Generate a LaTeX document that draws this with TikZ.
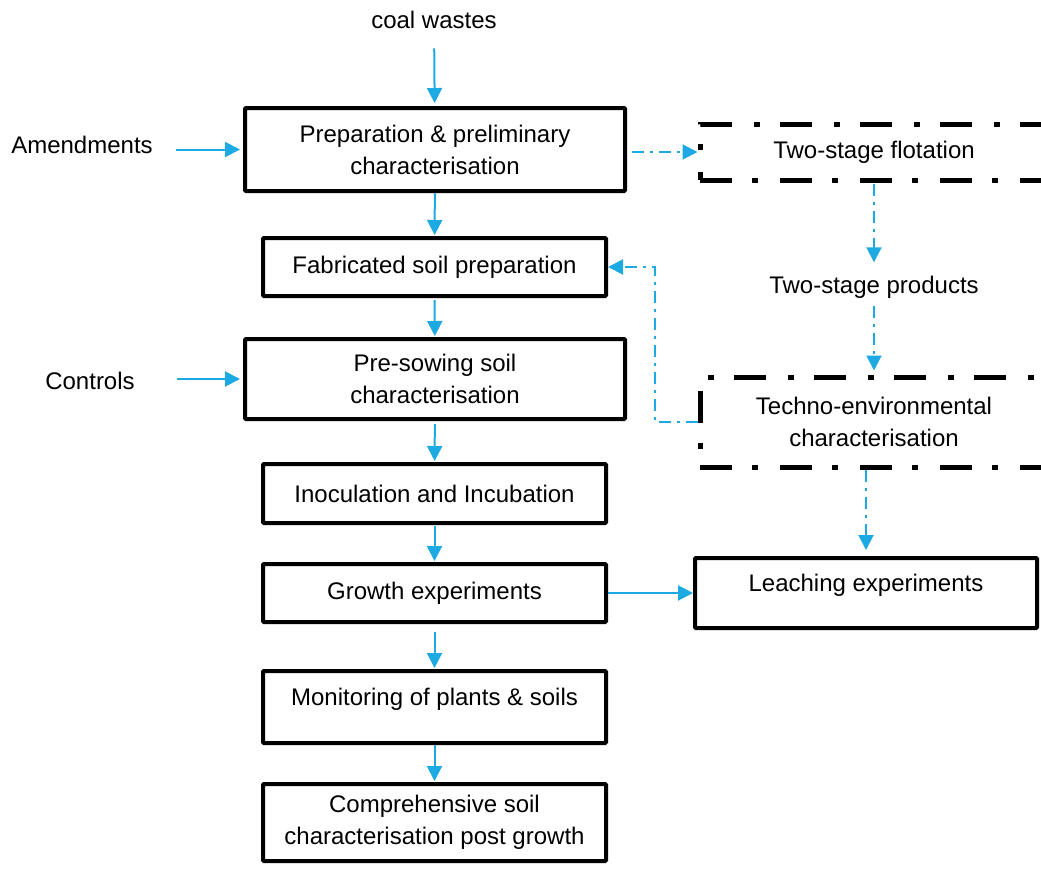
\documentclass[tikz,border=0pt]{standalone}
\usepackage{fontspec}
\setmainfont{Liberation Sans}
\usetikzlibrary{arrows.meta,positioning}
\definecolor{flowblue}{RGB}{29,169,226}
\tikzset{
  txt/.style={font=\fontsize{24}{32}\selectfont, align=center},
  stepbox/.style={txt, draw, line width=4pt, rectangle, rounded corners=1pt},
  raised/.style={text depth=21pt},
  dashbox/.style={txt, draw, line width=5pt, dash pattern=on 32pt off 20pt on 6pt off 22pt},
  flow/.style={draw=flowblue, line width=2pt, -{Triangle[length=15pt,width=15pt]}},
  dflow/.style={flow, dash pattern=on 12pt off 6pt on 3pt off 6pt}
}
\begin{document}
\begin{tikzpicture}[x=1pt, y=-1pt]
    \useasboundingbox (0,0) rectangle (1041,868);
    \clip (0,0) rectangle (1041,868);

    % main column
    \node [txt] (coal) at (434,20) {coal wastes};
    \node [stepbox, minimum width=380pt, minimum height=83pt] (prep) at (435,149.5) {Preparation \& preliminary\\characterisation};
    \node [txt] (amend) at (82,145) {Amendments};
    \node [stepbox, minimum width=343pt, minimum height=58pt] (fab) at (434.5,267) {Fabricated soil preparation};
    \node [stepbox, minimum width=380pt, minimum height=80pt] (presow) at (435,379) {Pre-sowing soil\\characterisation};
    \node [txt] (ctrl) at (90,381) {Controls};
    \node [stepbox, minimum width=343pt, minimum height=59pt] (inoc) at (434.5,493.5) {Inoculation and Incubation};
    \node [stepbox, minimum width=343pt, minimum height=58pt] (growth) at (434.5,593) {Growth experiments};
    \node [stepbox, raised, minimum width=343pt, minimum height=72pt] (monit) at (434.5,707) {Monitoring of plants \& soils};
    \node [stepbox, minimum width=343pt, minimum height=77pt] (comp) at (434.5,822.5) {Comprehensive soil\\characterisation post growth};

    % right column
    \node [dashbox, minimum width=348pt, minimum height=56pt] (flot) at (874,152) {Two-stage flotation};
    \node [txt] (prod) at (874,287) {Two-stage products};
    \node [dashbox, minimum width=348pt, minimum height=90pt] (techno) at (874,422) {Techno-environmental\\characterisation};
    \node [stepbox, raised, minimum width=342pt, minimum height=70pt] (leach) at (866,593) {Leaching experiments};

    \draw [flow, shorten <=16pt, shorten >=3pt] (coal) -- (prep);
    \draw [flow, shorten <=20pt, shorten >=3pt] (amend.east |- prep.west) -- (prep.west);
    \draw [flow, shorten <=39pt, shorten >=3pt] (ctrl.east |- presow.west) -- (presow.west);
    \draw [flow, shorten >=1pt] (prep) -- (fab);
    \draw [flow, shorten <=2pt, shorten >=1pt] (fab) -- (presow);
    \draw [flow, shorten <=3pt, shorten >=1pt] (presow) -- (inoc);
    \draw [flow, shorten <=1pt, shorten >=1pt] (inoc) -- (growth);
    \draw [flow, shorten <=8pt, shorten >=1pt] (growth) -- (monit);
    \draw [flow, shorten >=1pt] (monit) -- (comp);
    \draw [flow] (growth) -- (leach);

    \draw [dflow, shorten <=5pt] (prep.east |- flot) -- (flot.west);
    \draw [dflow, shorten <=1pt, shorten >=10pt] (flot) -- (prod);
    \draw [dflow, shorten <=4pt, shorten >=4pt] (prod) -- (techno);
    \draw [dflow] (techno.west) -- ++(-43,0) |- (fab.east);
    \draw [dflow, shorten >=6pt] (techno.south -| leach) -- (leach.north);
\end{tikzpicture}
\end{document}
